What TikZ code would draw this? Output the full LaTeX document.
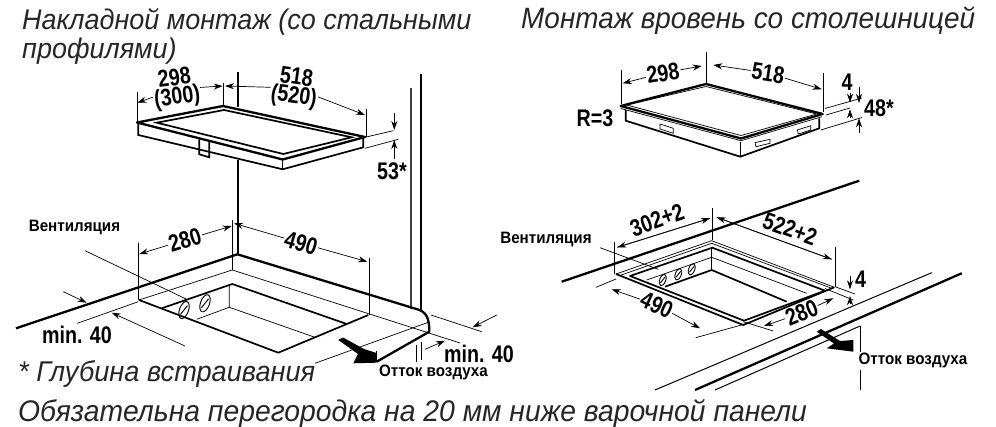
\documentclass[tikz,border=0pt]{standalone}
\usepackage{fontspec}
\setmainfont{Liberation Sans}
\newfontfamily\dimfont[FakeStretch=0.82]{Liberation Sans Bold}
\newfontfamily\notefont[FakeStretch=0.92]{Liberation Sans Bold}
\newfontfamily\titlefont[FakeStretch=0.95]{Liberation Sans Italic}
\usetikzlibrary{arrows.meta}
\tikzset{
  thinline/.style={line width=0.7pt},
  thickline/.style={line width=1.7pt},
  boldline/.style={line width=2.3pt},
  dimarrow/.style={line width=0.7pt, -{Stealth[length=9pt, width=6pt]}},
  dimlabel/.style={font=\dimfont\fontsize{24}{19}\selectfont, inner sep=1pt, align=center},
  smalllabel/.style={font=\notefont\fontsize{16.5}{16.5}\selectfont, inner sep=1pt},
  titlelabel/.style={font=\titlefont\fontsize{28.4}{28}\selectfont, color=black!85, inner sep=0pt, anchor=base west},
  vent/.style={line width=0.9pt}
}
\newcommand{\ventring}[3]{
  \draw[vent, rotate around={-20:(#1, #2)}] (#1, #2) ellipse (#3*0.5 and #3);
  \draw[vent, rotate around={-20:(#1, #2)}] (#1-#3*0.2, #2+#3*0.6) -- (#1+#3*0.2, #2-#3*0.6);
}
\begin{document}
\begin{tikzpicture}[x=1pt, y=-1pt]
    \useasboundingbox (0, 0) rectangle (996, 427);
    % titles
    \node[titlelabel] (titleA) at (22, 30) {Накладной монтаж (со стальными};
    \node[titlelabel] (titleB) at (22, 59) {профилями)};
    \node[titlelabel, font=\titlefont\fontsize{29.4}{29}\selectfont] (titleC) at (521, 29) {Монтаж вровень со столешницей};
    \node[titlelabel, font=\titlefont\fontsize{28.6}{29}\selectfont] (titleD) at (18, 382) {* Глубина встраивания};
    \node[titlelabel, font=\titlefont\fontsize{29.8}{29}\selectfont] (titleE) at (18, 421) {Обязательна перегородка на 20 мм ниже варочной панели};

    % top left hob
    \draw[boldline, line join=round] (137, 122.5) -- (223, 106) -- (365, 137) -- (282.7, 159.5) -- cycle;
    \draw[thickline] (156.7, 122.7) -- (224, 110) -- (351.7, 137.3) -- (283.3, 154) -- cycle;
    \draw[thickline] (138.3, 123) -- (138.3, 135) -- (282.7, 169.3) -- (363.3, 147.3) -- (363.3, 138);
    \draw[thinline] (282.7, 159.5) -- (282.7, 169.3);
    \draw[thickline] (199.3, 139.3) -- (199.3, 154.3) -- (209.3, 157.3) -- (209.3, 141.7);
    \draw[thickline] (238, 71.7) -- (238, 107);
    \draw[thinline] (137, 92) -- (137, 122) (223, 83) -- (223, 106) (366, 109.3) -- (366, 137);
    \draw[thinline] (365, 137.3) -- (393.3, 130.7) (365, 148.3) -- (398.3, 139.3);
    \draw[thickline] (238, 160) -- (238, 254);
    \draw[line width=1.4pt, black!75] (411, 88) -- (411, 309);
    \draw[line width=1.2pt] (421, 74) -- (421, 311);

    \coordinate (dimAa) at (137.3, 102.7);
    \coordinate (dimAb) at (222.7, 86);
    \coordinate (dimBa) at (225, 86);
    \coordinate (dimBb) at (365, 115);
    \coordinate (dimCa) at (394.3, 112.7);
    \coordinate (dimCb) at (394.3, 130);
    \coordinate (dimCc) at (394.3, 159.3);
    \coordinate (dimCd) at (394.3, 140);
    \node[dimlabel, rotate=8] (sizeA) at (176, 89) {298\\(300)};
    \node[dimlabel, rotate=-8] (sizeB) at (295, 88) {518\\(520)};
    \node[dimlabel] (sizeC) at (392, 171) {53*};
    \path[dimarrow]
    (sizeA) edge (dimAa)
    (sizeA) edge (dimAb)
    (sizeB) edge (dimBa)
    (sizeB) edge (dimBb);
    \path[dimarrow]
    (dimCa) edge (dimCb)
    (dimCc) edge (dimCd);

    % bottom left cutout
    \draw[boldline, line join=round] (16, 328.3) -- (237.3, 254.3) -- (418, 309.5)
      .. controls (426, 312) and (429.5, 318) .. (429.3, 331.7) -- (376.7, 361.7);
    \draw[thinline] (139, 300) -- (232.3, 270) -- (460, 343);
    \draw[thinline] (315, 363.3) -- (428.3, 322.3);
    \draw[thinline] (376.7, 351.5) -- (376.7, 362);
    \draw[thinline] (416.7, 345) -- (416.7, 362) (421.7, 342) -- (421.7, 360);
    \draw[thickline, line join=round] (139, 300) -- (278.3, 352.7) -- (368.3, 315);
    \draw[thickline] (161.7, 308.3) -- (232.3, 284) -- (346.7, 324);
    \draw[thinline] (229.3, 285) -- (229.3, 307.3) -- (315, 337.3) (229.3, 307.3) -- (196.7, 319.3);
    \ventring{184}{310}{9}
    \ventring{205}{303.3}{9}
    \draw[thinline] (138.3, 243.3) -- (138.3, 300) (232.3, 220) -- (232.3, 270) (369, 257.7) -- (369, 315);
    \draw[thinline] (85, 250.7) -- (186.7, 299.3);
    \draw[thinline] (77.3, 323.3) -- (138.3, 301.7) (431, 315) -- (481.7, 331.7);
    \fill (338.3, 340) -- (343, 337.5) -- (364, 349) -- (376.5, 353) -- (376.7, 362.7) -- (353.3, 363.3) -- (358, 354) -- cycle;

    \coordinate (dimDa) at (139.3, 254);
    \coordinate (dimDb) at (231.7, 226);
    \coordinate (dimEa) at (234, 223.3);
    \coordinate (dimEb) at (367.3, 261.7);
    \coordinate (dimFa) at (63.3, 291.7);
    \coordinate (dimFb) at (86.7, 302.7);
    \coordinate (dimFc) at (185, 346);
    \coordinate (dimFd) at (111.7, 312.7);
    \coordinate (dimGa) at (496.7, 315);
    \coordinate (dimGb) at (472.7, 327.3);
    \coordinate (dimGc) at (425, 349.3);
    \coordinate (dimGd) at (445, 340.7);
    \node[dimlabel, rotate=17] (sizeD) at (185, 240) {280};
    \node[dimlabel, rotate=-17] (sizeE) at (301, 243) {490};
    \node[dimlabel] (sizeF) at (77, 335) {min. 40};
    \node[dimlabel] (sizeG) at (479, 354) {min. 40};
    \node[smalllabel] (ventA) at (74.5, 227) {Вентиляция};
    \node[smalllabel] (airA) at (433.5, 372) {Отток воздуха};
    \path[dimarrow]
    (sizeD) edge (dimDa)
    (sizeD) edge (dimDb)
    (sizeE) edge (dimEa)
    (sizeE) edge (dimEb);
    \path[dimarrow]
    (dimFa) edge (dimFb)
    (dimFc) edge (dimFd)
    (dimGa) edge (dimGb)
    (dimGc) edge (dimGd);

    % top right hob
    \draw[boldline, line join=round] (620.7, 106) -- (706, 84) -- (822.7, 114) -- (741, 138.5) -- cycle;
    \draw[thinline] (626.7, 105) -- (706, 86.5) -- (816.7, 114) -- (741, 135.5) -- cycle;
    \draw[thinline] (620.7, 108.5) -- (741, 140.7) -- (822, 116.7);
    \draw[thickline, line join=round] (625.7, 110) -- (625.7, 120.7) -- (740.3, 156.7) -- (819.3, 128.3) -- (819.3, 118.3);
    \draw[thinline] (740.3, 141.7) -- (740.3, 156.7);
    \draw[thinline] (660, 124) -- (673.3, 128.3) -- (673.3, 133.3) -- (660, 129) -- cycle;
    \draw[thinline] (755, 142.7) -- (770, 139.3) -- (770, 143.3) -- (756, 146.7) -- cycle;
    \draw[thinline] (797.3, 130) -- (810.7, 125.7) -- (810.7, 130) -- (798.3, 134) -- cycle;
    \draw[thinline] (621.3, 70) -- (621.3, 104.3) (706.7, 51.7) -- (706.7, 84) (823.3, 73.3) -- (823.3, 112);
    \draw[thinline] (825, 108.5) -- (862, 98) (826, 115) -- (850, 108) (820.7, 130) -- (862, 117.5);

    \coordinate (dimHa) at (622.7, 83.3);
    \coordinate (dimHb) at (701.7, 66);
    \coordinate (dimJa) at (713.3, 65);
    \coordinate (dimJb) at (821.7, 89.3);
    \coordinate (dimKa) at (850, 93.3);
    \coordinate (dimKb) at (850, 102.7);
    \coordinate (dimKc) at (850, 118.3);
    \coordinate (dimKd) at (850, 109.3);
    \coordinate (dimLa) at (859, 87.3);
    \coordinate (dimLb) at (859, 103);
    \coordinate (dimLc) at (859, 132.7);
    \coordinate (dimLd) at (859, 118.3);
    \node[dimlabel, rotate=9] (sizeH) at (663, 73) {298};
    \node[dimlabel, rotate=-9] (sizeJ) at (768, 73) {518};
    \node[dimlabel] (sizeK) at (847, 82) {4};
    \node[dimlabel] (sizeL) at (879, 108) {48*};
    \node[dimlabel] (radA) at (595, 118) {R=3};
    \path[dimarrow]
    (sizeH) edge (dimHa)
    (sizeH) edge (dimHb)
    (sizeJ) edge (dimJa)
    (sizeJ) edge (dimJb);
    \path[dimarrow]
    (dimKa) edge (dimKb)
    (dimKc) edge (dimKd)
    (dimLa) edge (dimLb)
    (dimLc) edge (dimLd);

    % bottom right cutout
    \draw[boldline] (561.7, 281.7) -- (859.3, 180.7);
    \draw[line width=1pt] (655, 390) -- (931.7, 272.7);
    \draw[boldline] (695, 390) -- (961.7, 273.3);
    \draw[line width=1pt] (715, 390) -- (860, 326);
    \draw[line width=1pt] (860.7, 326) -- (860.7, 351.7) (860.7, 370) -- (860.7, 390);
    \fill (816.7, 331.7) -- (821, 329) -- (840, 341) -- (853.3, 340) -- (853.3, 351.7) -- (826.7, 348.3) -- (834, 343.5) -- cycle;

    \draw[thinline] (616, 274) -- (711.7, 240.7) -- (834.3, 287.3);
    \draw[thinline] (618.5, 276) -- (711.7, 243.3) -- (831.7, 288.3);
    \draw[thickline, line join=round] (616, 274) -- (743.3, 325) -- (834.3, 287.3);
    \draw[thickline, line join=round] (630, 276) -- (712.3, 247.7) -- (825, 290.7) -- (744, 320.7) -- cycle;
    \draw[thinline] (711.7, 247.7) -- (711.7, 270);
    \draw[thinline] (646.7, 280) -- (711.7, 257.3) -- (806.7, 293.3);
    \draw[thickline] (665, 286.7) -- (711.7, 270) -- (786.7, 301.7);
    \ventring{662.7}{280}{6}
    \ventring{678.3}{274.3}{6}
    \ventring{691.7}{269.3}{6}
    \draw[thinline] (614.7, 241.7) -- (614.7, 274) (712.3, 208.3) -- (712.3, 240) (835.7, 247.3) -- (835.7, 287);
    \draw[thinline] (596, 287.3) -- (616, 279) (695.7, 337.7) -- (745, 324) (743.3, 321.7) -- (773.3, 331);
    \draw[thinline] (835, 286.7) -- (855, 294) (825, 288.5) -- (853.3, 300);
    \draw[thinline] (600, 247.7) -- (658.3, 269.3);

    \coordinate (dimMa) at (617.3, 247.3);
    \coordinate (dimMb) at (710, 218.3);
    \coordinate (dimNa) at (716.7, 217.3);
    \coordinate (dimNb) at (831.7, 259.3);
    \coordinate (dimOa) at (611.7, 289.3);
    \coordinate (dimOb) at (700, 328.3);
    \coordinate (dimPa) at (833.3, 298.3);
    \coordinate (dimPb) at (764, 326);
    \coordinate (dimQa) at (850, 276);
    \coordinate (dimQb) at (850, 289.3);
    \coordinate (dimQc) at (850, 304);
    \coordinate (dimQd) at (850, 296);
    \node[dimlabel, rotate=20] (sizeM) at (657, 220) {302+2};
    \node[dimlabel, rotate=-20] (sizeN) at (790, 229) {522+2};
    \node[dimlabel, rotate=-25] (sizeO) at (656.7, 305) {490};
    \node[dimlabel, rotate=22] (sizeP) at (801.7, 313) {280};
    \node[dimlabel] (sizeQ) at (860.7, 279) {4};
    \node[smalllabel] (ventB) at (546, 239) {Вентиляция};
    \node[smalllabel] (airB) at (913, 360) {Отток воздуха};
    \path[dimarrow]
    (dimMa) edge (dimMb)
    (dimMb) edge (dimMa)
    (dimNa) edge (dimNb)
    (dimNb) edge (dimNa)
    (sizeO) edge (dimOa)
    (sizeO) edge (dimOb)
    (sizeP) edge (dimPa)
    (sizeP) edge (dimPb);
    \path[dimarrow]
    (dimQa) edge (dimQb)
    (dimQc) edge (dimQd);
  \end{tikzpicture}
\end{document}
